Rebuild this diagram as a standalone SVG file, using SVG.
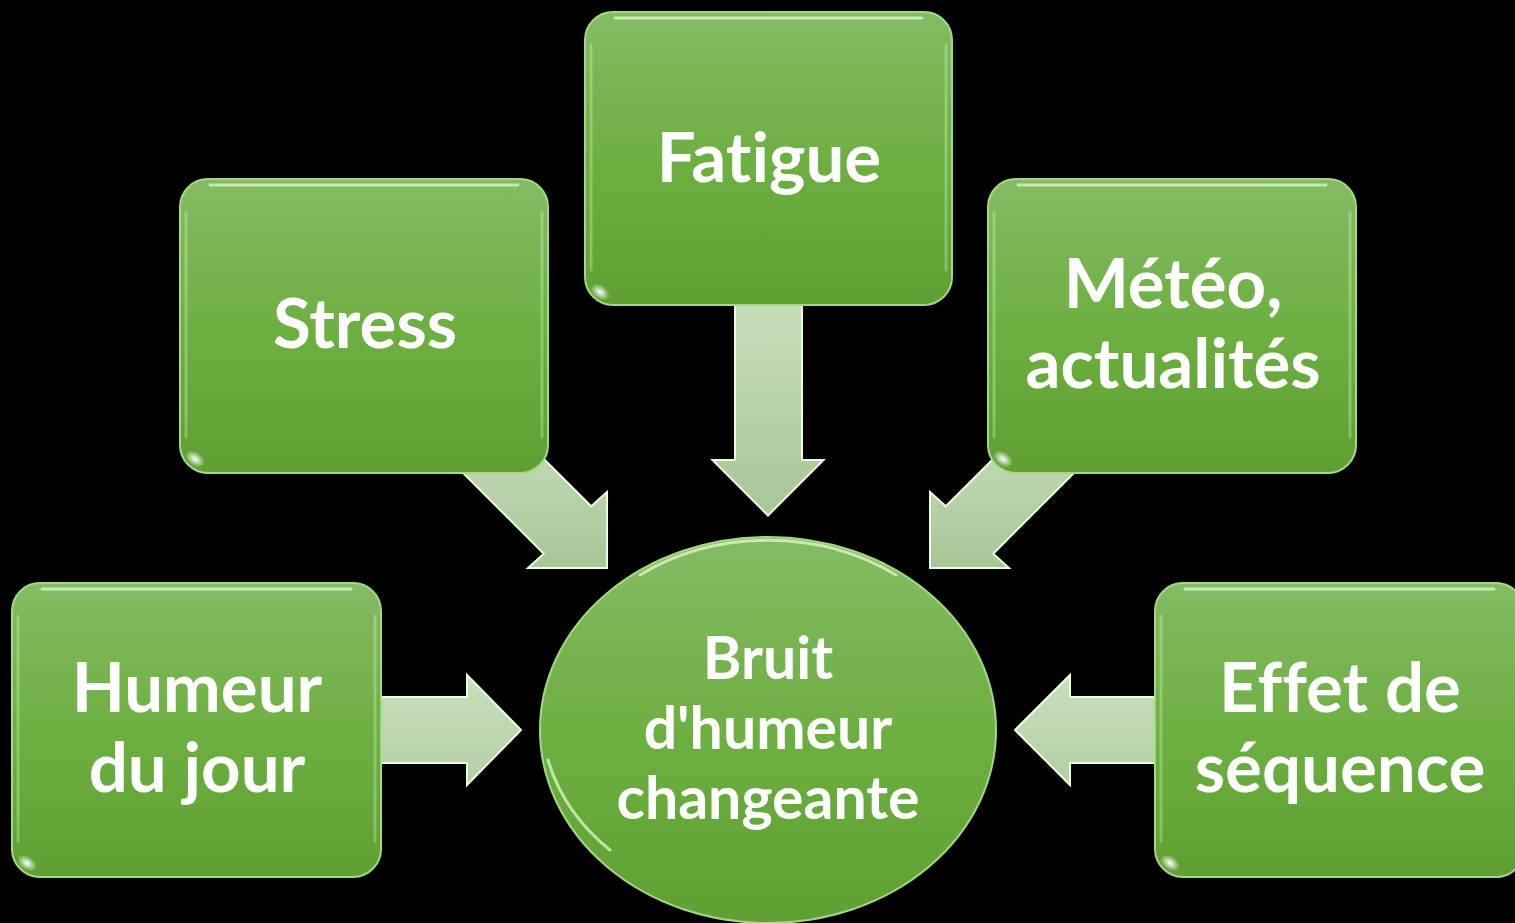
<svg xmlns="http://www.w3.org/2000/svg" width="1515" height="923" viewBox="0 0 1515 923">
<defs>
<linearGradient id="gBox" x1="0" y1="0" x2="0" y2="1">
<stop offset="0" stop-color="#84bb64"/>
<stop offset="0.55" stop-color="#6cae3f"/>
<stop offset="1" stop-color="#5f9f33"/>
</linearGradient>
<linearGradient id="gArrV" x1="0" y1="0" x2="0" y2="1">
<stop offset="0" stop-color="#c9dfbd"/>
<stop offset="1" stop-color="#a7c697"/>
</linearGradient>
<linearGradient id="gArrH" x1="0" y1="0" x2="0" y2="1">
<stop offset="0" stop-color="#c9dfbd"/>
<stop offset="1" stop-color="#b3cfa5"/>
</linearGradient>
<radialGradient id="gGlint" cx="0.5" cy="0.5" r="0.5">
<stop offset="0" stop-color="#ffffff" stop-opacity="1"/>
<stop offset="1" stop-color="#ffffff" stop-opacity="0"/>
</radialGradient>
<style>
.box{fill:url(#gBox);stroke:#a6d884;stroke-width:2}
.hl{fill:none;stroke:#e6ffd4;stroke-opacity:0.7;stroke-width:3;stroke-linecap:round}
.hs{fill:none;stroke:#e6ffd4;stroke-opacity:0.3;stroke-width:3;stroke-linecap:round}
.arrV{fill:url(#gArrV);stroke:#eaffdf;stroke-width:2;stroke-linejoin:miter}
.arrH{fill:url(#gArrH);stroke:#eaffdf;stroke-width:2;stroke-linejoin:miter}
.t{font-family:"Lato","Open Sans","Liberation Sans",sans-serif;font-weight:bold;fill:#ffffff;text-anchor:middle;font-variant-ligatures:none;font-feature-settings:"liga" 0}
.big{font-size:69px}
.mid{font-size:59px}
</style>
</defs>
<rect width="1515" height="923" fill="#000000"/>

<g id="connectors">
<polygon class="arrV" points="735,290 802,290 802,460 823.5,460 768,515.5 712.5,460 735,460"/>
<polygon class="arrV" points="501.2,416.3 591.2,506.3 607,492 607,568 528,568 543.8,553.7 453.8,463.7"/>
<polygon class="arrV" points="1035.8,416.3 945.8,506.3 930,492 930,568 1009,568 993.2,553.7 1083.2,463.7"/>
<polygon class="arrH" points="370,697 467,697 467,675 521,730 467,785 467,763 370,763"/>
<polygon class="arrH" points="1170,697 1070,697 1070,675 1015,730 1070,785 1070,763 1170,763"/>
</g>

<g id="node-fatigue">
<rect class="box" x="585" y="12" width="367" height="293" rx="28"/>
<path class="hl" d="M615,18 H922"/>
<path class="hs" d="M591,45 V270 M946,45 V270"/>
<ellipse cx="600" cy="292" rx="11" ry="7" fill="url(#gGlint)" transform="rotate(35 600 292)"/>
<text class="t big" x="769" y="182">Fatigue</text>
</g>

<g id="node-stress">
<rect class="box" x="180" y="179" width="368" height="294" rx="28"/>
<path class="hl" d="M210,185 H518"/>
<path class="hs" d="M186,212 V437 M542,212 V437"/>
<ellipse cx="195" cy="459" rx="11" ry="7" fill="url(#gGlint)" transform="rotate(35 195 459)"/>
<text class="t big" x="365" y="348">Stress</text>
</g>

<g id="node-meteo">
<rect class="box" x="988" y="179" width="368" height="294" rx="28"/>
<path class="hl" d="M1018,185 H1326"/>
<path class="hs" d="M994,212 V437 M1350,212 V437"/>
<ellipse cx="1003" cy="459" rx="11" ry="7" fill="url(#gGlint)" transform="rotate(35 1003 459)"/>
<text class="t big" x="1173" y="308">Météo,</text>
<text class="t big" x="1173" y="388">actualités</text>
</g>

<g id="node-humeur">
<rect class="box" x="12" y="583" width="369" height="294" rx="28"/>
<path class="hl" d="M42,589 H351"/>
<path class="hs" d="M18,616 V841 M375,616 V841"/>
<ellipse cx="27" cy="863" rx="11" ry="7" fill="url(#gGlint)" transform="rotate(35 27 863)"/>
<text class="t big" x="197" y="712">Humeur</text>
<text class="t big" x="197" y="792">du jour</text>
</g>

<g id="node-effet">
<rect class="box" x="1155" y="583" width="369" height="294" rx="28"/>
<path class="hl" d="M1185,589 H1494"/>
<path class="hs" d="M1161,616 V841"/>
<ellipse cx="1170" cy="863" rx="11" ry="7" fill="url(#gGlint)" transform="rotate(35 1170 863)"/>
<text class="t big" x="1340" y="712">Effet de</text>
<text class="t big" x="1340" y="792">séquence</text>
</g>

<g id="node-bruit">
<ellipse class="box" cx="768" cy="730" rx="228" ry="193"/>
<path class="hl" d="M640,575 A220,186 0 0 1 896,575" stroke-opacity="0.5"/>
<path class="hl" d="M548,760 A222,187 0 0 0 610,850" stroke-opacity="0.6"/>
<text class="t mid" x="768" y="679">Bruit</text>
<text class="t mid" x="768" y="749">d'humeur</text>
<text class="t mid" x="768" y="819">changeante</text>
</g>
</svg>
